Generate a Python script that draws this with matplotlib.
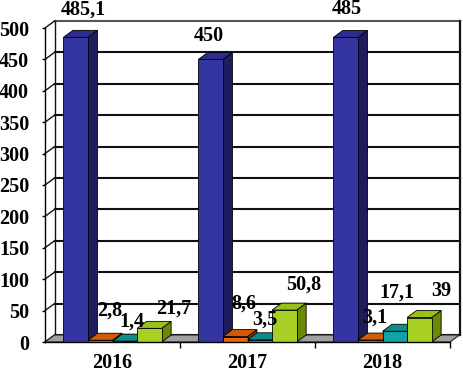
import numpy as np
import matplotlib.pyplot as plt
from matplotlib.patches import Polygon, Rectangle

# data
years = ['2016', '2017', '2018']
s_blue = [485.1, 450, 485]
s_orange = [2.8, 8.6, 3.1]
s_teal = [1.4, 3.5, 17.1]
s_green = [21.7, 50.8, 39]
series = [s_blue, s_orange, s_teal, s_green]
yticks = list(range(0, 501, 50))

# label nudges in pixels (dx, dy) from the top-centre of the bar front
nudges = [[(8, 28), (-2, 23), (1, 28)],
          [(9, 30), (9, 33), (5, 22)],
          [(7, 20), (5, 20), (2, 39)],
          [(24, 20), (19, 26), (22, 27)]]

# front, top, side shades
shades = [('#3535a2', '#2d2d90', '#1d1d5e'),
          ('#e8650c', '#d35a08', '#8c3c02'),
          ('#10a4a8', '#0c8c8f', '#075e60'),
          ('#a8d024', '#98c016', '#6a8a04')]

DPI = 100
DX, DY = 9.5, 7.0   # depth of the 3d look, pixels
BAR_W = 0.182

plt.rcParams['font.family'] = ['Liberation Serif', 'DejaVu Serif']
plt.rcParams['font.weight'] = 'bold'

fig = plt.figure(figsize=(4.63, 3.72), dpi=DPI)
ax = fig.add_axes([45 / 463, 30 / 372, 405 / 463, 314 / 372])
ax.set_xlim(0, 3)
ax.set_ylim(0, 500)
ax.patch.set_visible(False)

# depth offset in data units
inv = ax.transData.inverted()
p0 = inv.transform((0, 0))
p1 = inv.transform((DX, DY))
ddx, ddy = p1 - p0

# back wall
for v in yticks:
    col = '#555555' if v == 500 else '#111111'
    ax.plot([ddx, 3 + ddx], [v + ddy, v + ddy], color=col, lw=1.5,
            clip_on=False, zorder=1)
    ax.plot([0, ddx], [v, v + ddy], color='#111111', lw=1.0,
            clip_on=False, zorder=1)
ax.plot([ddx, ddx], [ddy, 500 + ddy], color='#111111', lw=1.0, clip_on=False, zorder=1)
ax.plot([3 + ddx, 3 + ddx], [ddy, 500 + ddy], color='#111111', lw=1.6, clip_on=False, zorder=1)

# floor
floor = Polygon([(0, 0), (3, 0), (3 + ddx, ddy), (ddx, ddy)], closed=True,
                facecolor='#a0a0a0', edgecolor='#222222', lw=0.8,
                clip_on=False, zorder=2)
ax.add_patch(floor)

# bars
z = 3
for i in range(len(years)):
    for k, s in enumerate(series):
        v = s[i]
        x0 = i + 0.5 + (k - 2) * BAR_W
        x1 = x0 + BAR_W
        front, top, side = shades[k]
        ax.add_patch(Polygon([(x1, 0), (x1 + ddx, ddy), (x1 + ddx, v + ddy), (x1, v)],
                             closed=True, facecolor=side, edgecolor='black',
                             lw=0.6, clip_on=False, zorder=z))
        ax.add_patch(Polygon([(x0, v), (x1, v), (x1 + ddx, v + ddy), (x0 + ddx, v + ddy)],
                             closed=True, facecolor=top, edgecolor='black',
                             lw=0.6, clip_on=False, zorder=z))
        ax.add_patch(Rectangle((x0, 0), BAR_W, v, facecolor=front,
                               edgecolor='black', lw=0.6, clip_on=False, zorder=z))
        z += 1
        txt = f'{v:g}'.replace('.', ',')
        ax.annotate(txt, (x0 + BAR_W / 2, v), xytext=nudges[k][i],
                    textcoords='offset pixels', ha='center', va='center',
                    fontsize=14.5, fontweight='bold', annotation_clip=False,
                    zorder=50)

# axes
for sp in ['top', 'right']:
    ax.spines[sp].set_visible(False)
ax.spines['left'].set_linewidth(1.0)
ax.spines['bottom'].set_linewidth(1.0)
ax.spines['left'].set_zorder(20)
ax.spines['bottom'].set_zorder(20)

ax.set_yticks(yticks)
ax.set_yticklabels([str(t) for t in yticks], fontsize=14.5, fontweight='bold')
ax.tick_params(axis='y', length=2.5, width=1, pad=9)

ax.set_xticks([0.5, 1.5, 2.5])
ax.set_xticklabels(years, fontsize=14.5, fontweight='bold')
ax.set_xticks([1, 2, 3], minor=True)
ax.tick_params(axis='x', which='major', length=0, pad=8)
ax.tick_params(axis='x', which='minor', length=4, width=1)

fig.savefig('out.png', dpi=DPI)
